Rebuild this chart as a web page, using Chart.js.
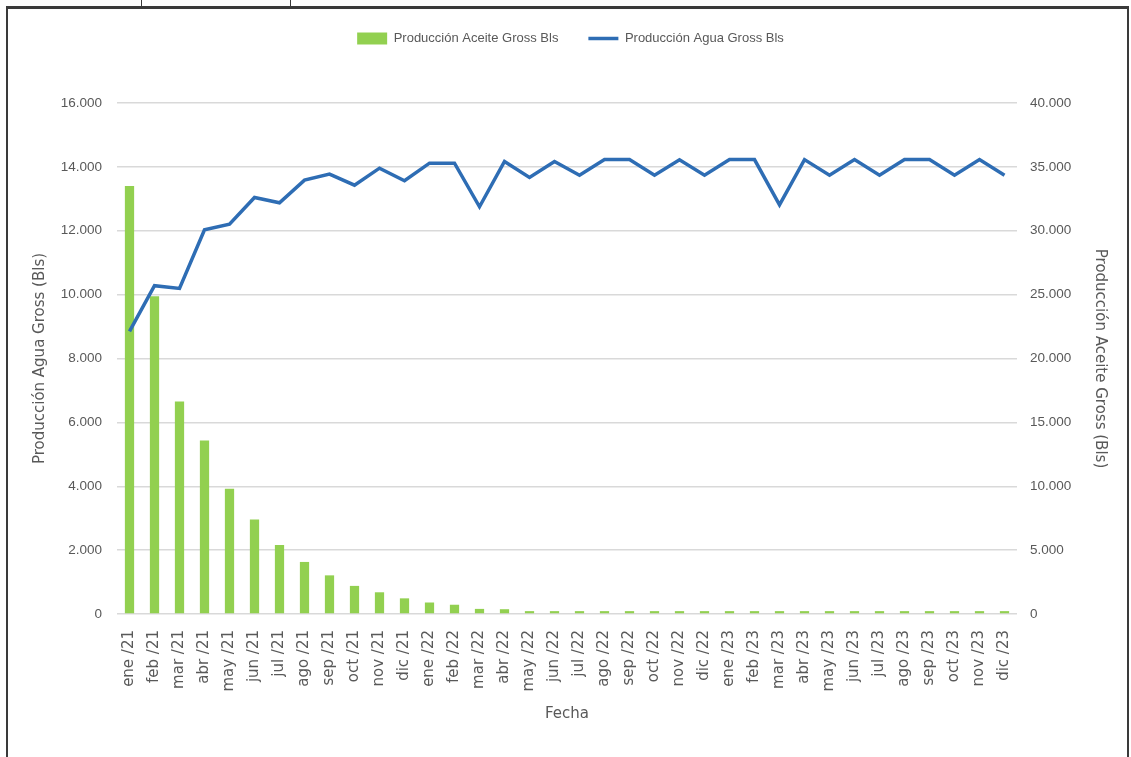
<!DOCTYPE html>
<html lang="es">
<head>
    <meta charset="UTF-8">
    <title>Producción Aceite / Agua Gross</title>
    <script src="https://cdn.jsdelivr.net/npm/chart.js"></script>
    <style>
        body { margin: 0; background: #fff; }
        #wrap { position: relative; width: 1131px; height: 757px; overflow: hidden; }
        #frame { position: absolute; left: 6px; top: 6px; width: 1119px; height: 800px; border: 2px solid #3a3a3a; border-top-width: 3px; pointer-events: none; }
        .tick { position: absolute; top: 0; width: 1px; height: 7px; background: #3a3a3a; }
        canvas { position: absolute; left: 0; top: 0; }
    </style>
</head>
<body>
<div id="wrap">
    <canvas id="chart" width="1131" height="757"></canvas>
    <div id="frame"></div>
    <div class="tick" style="left:141px"></div>
    <div class="tick" style="left:290px"></div>
</div>

<script>
    const meses = ["ene", "feb", "mar", "abr", "may", "jun", "jul", "ago", "sep", "oct", "nov", "dic"];
    const anios = ["21", "22", "23"];
    const fechas = [];
    anios.forEach(a => meses.forEach(m => fechas.push(m + " /" + a)));

    // Producción Aceite Gross Bls (barras, eje izquierdo)
    const aceite = [13400, 9950, 6650, 5430, 3920, 2960, 2160, 1630, 1210, 880, 680, 490,
                    360, 290, 160, 150, 90, 90, 90, 90, 90, 90, 90, 90,
                    90, 90, 90, 90, 90, 90, 90, 90, 90, 90, 90, 90];

    // Producción Agua Gross Bls (línea, eje derecho)
    const agua = [22130, 25700, 25490, 30080, 30520, 32600, 32190, 33960, 34430, 33570, 34900, 33910,
                  35290, 35290, 31875, 35420, 34170, 35420, 34350, 35570, 35570, 34350, 35550, 34350,
                  35570, 35570, 32030, 35570, 34350, 35570, 34350, 35570, 35570, 34350, 35570, 34350];

    const ticksIzq = { min: 0, max: 16000, step: 2000 };
    const ticksDer = { min: 0, max: 40000, step: 5000 };

    const verde = "#92d050";
    const azul = "#2e6db4";
    const gris = "#595959";
    const sans = "'Liberation Sans', Arial, sans-serif";

    const fmt = v => v.toLocaleString("de-DE");

    // deja más aire entre la leyenda y el área del gráfico
    const legendGap = {
        id: "legendGap",
        beforeInit(chart) {
            const fit = chart.legend.fit;
            chart.legend.fit = function () {
                fit.bind(chart.legend)();
                this.height += 48;
            };
        }
    };

    let ctx = document.getElementById("chart").getContext("2d");
    let chart = new Chart(ctx, {
        data: {
            labels: fechas,
            datasets: [{
                type: "bar",
                label: "Producción Aceite Gross Bls",
                data: aceite,
                backgroundColor: verde,
                categoryPercentage: 1,
                barPercentage: 0.37,
                yAxisID: "y",
                pointStyle: "rect",
                order: 2
            }, {
                type: "line",
                label: "Producción Agua Gross Bls",
                data: agua,
                borderColor: azul,
                backgroundColor: azul,
                borderWidth: 3.5,
                pointRadius: 0,
                pointStyle: "line",
                pointBorderColor: azul,
                pointBorderWidth: 3.5,
                tension: 0,
                yAxisID: "y1",
                order: 1
            }]
        },
        options: {
            responsive: false,
            animation: false,
            layout: { padding: { top: 2, left: 10, right: 0, bottom: 0 } },
            plugins: {
                tooltip: { enabled: false },
                legend: {
                    position: "top",
                    labels: {
                        usePointStyle: true,
                        pointStyleWidth: 30,
                        boxHeight: 12,
                        color: gris,
                        font: { family: sans, size: 13 },
                        padding: 30,
                        sort: (a, b) => a.datasetIndex - b.datasetIndex
                    }
                }
            },
            scales: {
                x: {
                    grid: { display: false },
                    border: { display: false },
                    ticks: {
                        color: gris,
                        minRotation: 90,
                        maxRotation: 90,
                        padding: 8,
                        autoSkip: false,
                        font: { family: "'DejaVu Sans'", size: 15 }
                    },
                    title: {
                        display: true,
                        text: "Fecha",
                        color: gris,
                        font: { family: "'DejaVu Sans'", size: 15 },
                        padding: { top: 4, bottom: 34 }
                    },
                    afterFit: s => { s.height = 143; }
                },
                y: {
                    position: "left",
                    min: ticksIzq.min,
                    max: ticksIzq.max,
                    grid: { color: "#d9d9d9", lineWidth: 1.5, drawTicks: false },
                    border: { display: false },
                    ticks: {
                        stepSize: ticksIzq.step,
                        color: gris,
                        padding: 15,
                        font: { family: sans, size: 13.5 },
                        callback: v => fmt(v)
                    },
                    title: {
                        display: true,
                        text: "Producción Agua Gross (Bls)",
                        color: gris,
                        font: { family: "'DejaVu Sans'", size: 15 },
                        padding: { top: 21, bottom: 4 }
                    },
                    afterFit: s => { s.width = 107; }
                },
                y1: {
                    position: "right",
                    min: ticksDer.min,
                    max: ticksDer.max,
                    grid: { display: false, drawTicks: false },
                    border: { display: false },
                    ticks: {
                        stepSize: ticksDer.step,
                        color: gris,
                        padding: 13,
                        font: { family: sans, size: 13.5 },
                        callback: v => fmt(v)
                    },
                    title: {
                        display: true,
                        text: "Producción Aceite Gross (Bls)",
                        color: gris,
                        font: { family: "'DejaVu Sans'", size: 15 },
                        padding: { top: 22, bottom: 4 }
                    },
                    afterFit: s => { s.width = 114; }
                }
            }
        },
        plugins: [legendGap]
    });
</script>
</body>
</html>
